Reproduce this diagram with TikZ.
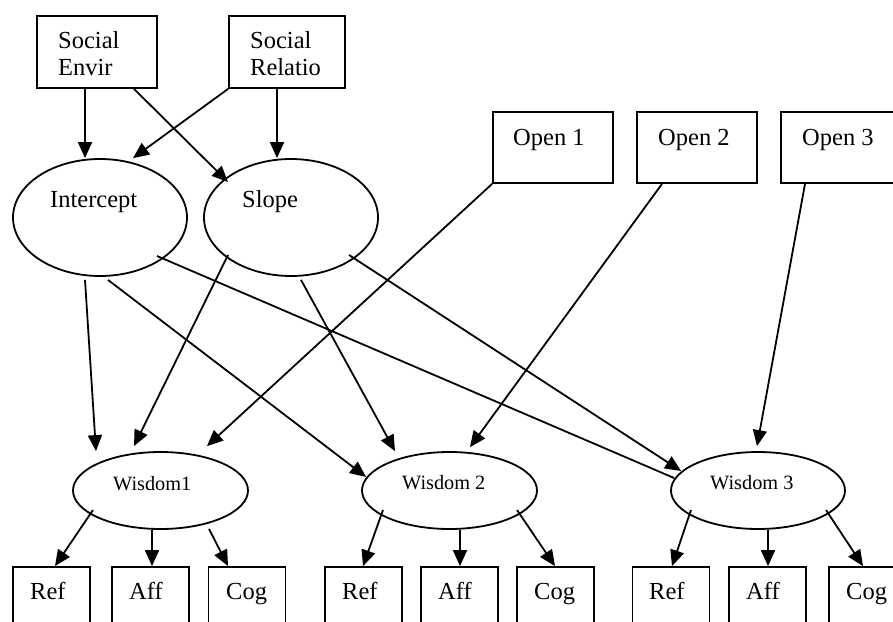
\documentclass[tikz,border=0pt]{standalone}
\usepackage{fontspec}
\setmainfont{Liberation Serif}
\usetikzlibrary{arrows.meta,shapes.geometric}

\tikzset{
  box/.style={draw, rectangle, line width=1.8pt, inner sep=0pt,
              minimum height=72pt, minimum width=#1},
  box/.default=77pt,
  latent/.style={draw, ellipse, line width=1.8pt, inner sep=0pt},
  arr/.style={line width=1.8pt, -{Triangle[length=16pt,width=14pt]}},
  plain/.style={line width=1.8pt},
  txt/.style={anchor=base west, inner sep=0pt,
              font=\fontsize{24.5pt}{27pt}\selectfont},
  twoline/.style={anchor=north west, inner sep=0pt, align=left,
              font=\fontsize{24.5pt}{27pt}\selectfont},
  wtxt/.style={anchor=base west, inner sep=0pt,
              font=\fontsize{20.3pt}{22pt}\selectfont}
}

\begin{document}
\begin{tikzpicture}[x=1pt, y=-1pt]
\useasboundingbox (0,0) rectangle (893,621);

% predictors
\node[box=120pt] (se) at (97,52) {};
\node[box=116pt] (sr) at (287,52) {};
\node[twoline] (sel) at (58,31.5) {Social\\Envir};
\node[twoline] (srl) at (250,31.5) {Social\\Relatio};

\node[box=120pt, minimum height=71pt] (o1) at (553,147.5) {};
\node[box=120pt, minimum height=71pt] (o2) at (697,147.5) {};
\node[box=120pt, minimum height=71pt] (o3) at (841,147.5) {};
\node[txt] (o1l) at (513,145) {Open 1};
\node[txt] (o2l) at (658,145) {Open 2};
\node[txt] (o3l) at (802,145) {Open 3};

% growth factors
\node[latent, minimum width=174pt, minimum height=117pt] (int) at (100,217.5) {};
\node[latent, minimum width=174pt, minimum height=117pt] (slope) at (291,217.5) {};
\node[txt] (intl) at (50,207) {Intercept};
\node[txt] (slopel) at (242,207) {Slope};

% wisdom factors
\node[latent, minimum width=175pt, minimum height=77pt] (w1) at (160.5,490.5) {};
\node[latent, minimum width=175pt, minimum height=77pt] (w2) at (449.5,490.5) {};
\node[latent, minimum width=174pt, minimum height=77pt] (w3) at (758,490.5) {};
\node[wtxt] (w1l) at (113,490) {Wisdom1};
\node[wtxt] (w2l) at (402,489) {Wisdom 2};
\node[wtxt] (w3l) at (710,489) {Wisdom 3};

% indicators
\node[box] (ref1) at (51.5,603) {};
\node[box] (aff1) at (150.5,603) {};
\node[box] (cog1) at (247,603) {};
\node[box] (ref2) at (363.5,603) {};
\node[box] (aff2) at (459.5,603) {};
\node[box] (cog2) at (555.5,603) {};
\node[box] (ref3) at (671,603) {};
\node[box] (aff3) at (767.5,603) {};
\node[box] (cog3) at (867.5,603) {};
\node[txt] (ref1l) at (30,599) {Ref};
\node[txt] (aff1l) at (129,599) {Aff};
\node[txt] (cog1l) at (226,599) {Cog};
\node[txt] (ref2l) at (342,599) {Ref};
\node[txt] (aff2l) at (438,599) {Aff};
\node[txt] (cog2l) at (534,599) {Cog};
\node[txt] (ref3l) at (649,599) {Ref};
\node[txt] (aff3l) at (746,599) {Aff};
\node[txt] (cog3l) at (846,599) {Cog};

% predictors -> growth factors
\draw[arr] ([xshift=-12pt]se.south) -- ([xshift=-15pt]int.north);
\draw[arr] ([xshift=37pt]se.south) -- ([xshift=-63pt,yshift=35.5pt]slope.center);
\draw[arr] (sr.south west) -- ([xshift=33pt]int.north);
\draw[arr] ([xshift=-10pt]sr.south) -- ([xshift=-14pt]slope.north);

% growth factors -> wisdom
\draw[arr] ([xshift=-15pt,yshift=-3pt]int.south) -- ([xshift=-64.5pt]w1.north);
\draw[arr] ([xshift=8pt,yshift=-3pt]int.south) -- ([xshift=5pt,yshift=13.5pt]w2.west);
\draw[plain] ([xshift=57pt,yshift=-38.5pt]int.center) -- ([xshift=4pt,yshift=12.5pt]w3.west);
\draw[arr] ([xshift=-63pt,yshift=-37.5pt]slope.center) -- ([xshift=-26.5pt,yshift=5pt]w1.north);
\draw[arr] ([xshift=10pt,yshift=-3pt]slope.south) -- ([xshift=-54.5pt]w2.north);
\draw[arr] ([xshift=58pt,yshift=-37.5pt]slope.center) -- ([xshift=11pt,yshift=19.5pt]w3.west);

% openness -> wisdom
\draw[arr] (o1.south west) -- ([xshift=46.5pt,yshift=5pt]w1.north);
\draw[arr] ([xshift=-35pt]o2.south) -- ([xshift=20.5pt,yshift=4pt]w2.north);
\draw[arr] ([xshift=-36pt]o3.south) -- ([xshift=-1pt,yshift=5pt]w3.north);

% wisdom -> indicators
\draw[arr] ([xshift=-67.5pt,yshift=-19.5pt]w1.center) -- ([xshift=3.5pt]ref1.north);
\draw[arr] ([xshift=-8.5pt]w1.south) -- ([xshift=1.5pt]aff1.north);
\draw[arr] ([xshift=48.5pt,yshift=1pt]w1.south) -- ([xshift=-19pt]cog1.north);
\draw[arr] ([xshift=-66.5pt,yshift=-19.5pt]w2.center) -- ([xshift=-0.5pt]ref2.north);
\draw[arr] ([xshift=10.5pt]w2.south) -- ([xshift=0.5pt]aff2.north);
\draw[arr] ([xshift=67.5pt,yshift=-19.5pt]w2.center) -- ([xshift=-0.5pt]cog2.north);
\draw[arr] ([xshift=-67pt,yshift=-19.5pt]w3.center) -- ([xshift=1pt]ref3.north);
\draw[arr] ([xshift=10pt]w3.south) -- ([xshift=0.5pt]aff3.north);
\draw[arr] ([xshift=68pt,yshift=-19.5pt]w3.center) -- ([xshift=-4.5pt]cog3.north);
\end{tikzpicture}
\end{document}
